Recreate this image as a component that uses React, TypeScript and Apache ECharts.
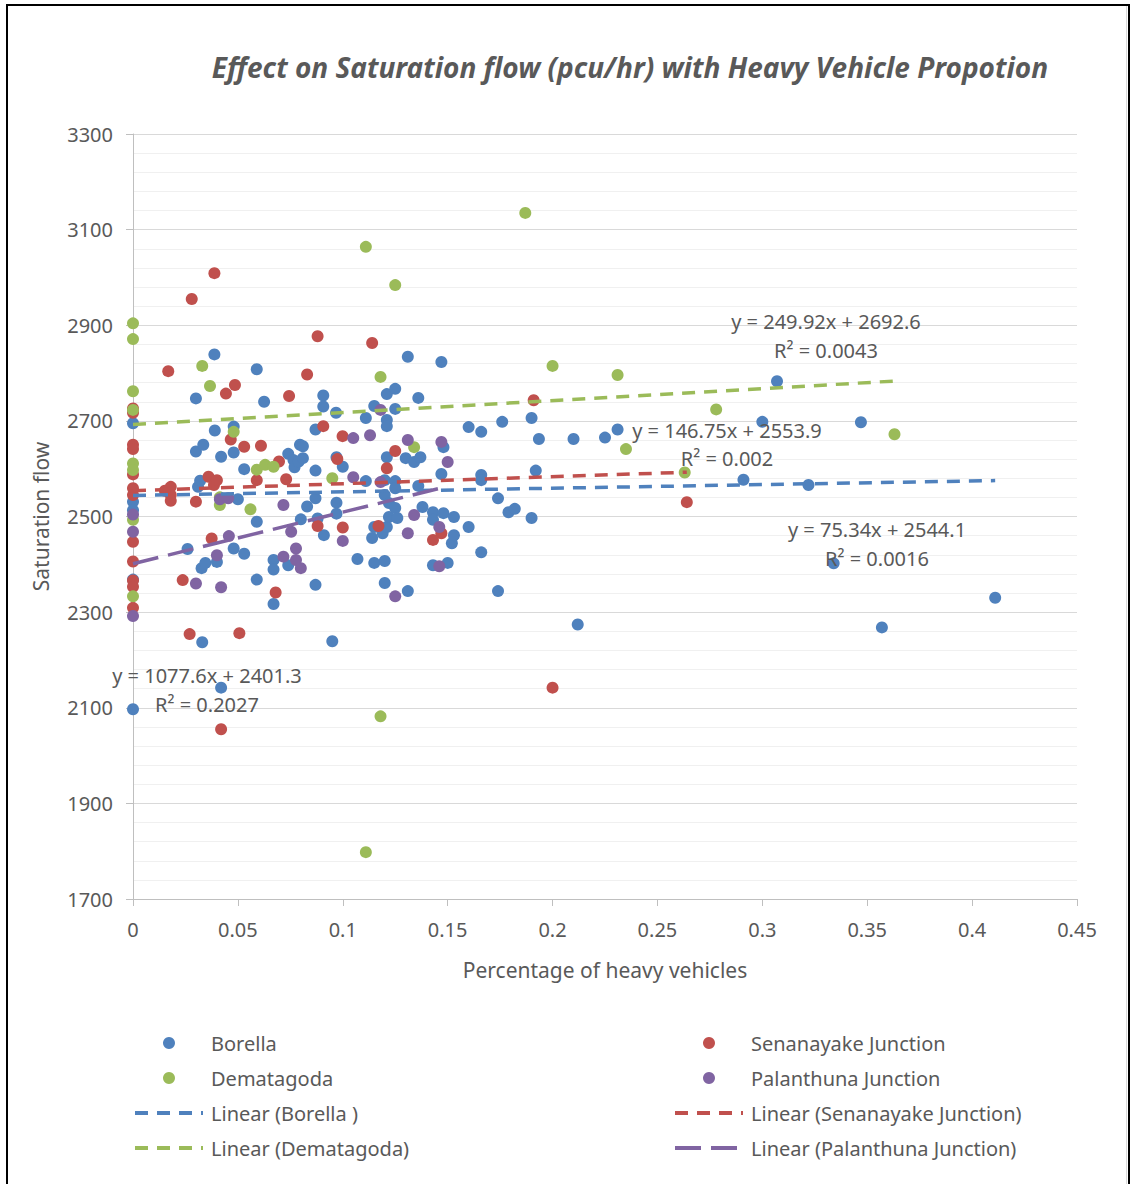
import React, { useEffect, useRef } from "react";
import * as echarts from "echarts";

// ---------- DATA ----------
const borella: [number, number][] = [
  [0, 2695], [0, 2531], [0, 2513], [0, 2368], [0, 2097],
  [0.026, 2432], [0.03, 2747], [0.03, 2636], [0.031, 2562], [0.032, 2575], [0.0327, 2392], [0.033, 2237], [0.0335, 2650], [0.0345, 2403],
  [0.0388, 2839], [0.039, 2680], [0.04, 2405], [0.042, 2625], [0.042, 2142], [0.048, 2688], [0.048, 2634], [0.048, 2433], [0.05, 2536],
  [0.053, 2599], [0.053, 2422], [0.059, 2808], [0.059, 2489], [0.059, 2368], [0.0625, 2740], [0.067, 2409], [0.067, 2389], [0.067, 2317],
  [0.074, 2631], [0.074, 2398], [0.0765, 2618], [0.077, 2603], [0.079, 2615], [0.0796, 2650], [0.08, 2494], [0.081, 2647], [0.081, 2622],
  [0.083, 2521], [0.087, 2682], [0.087, 2596], [0.087, 2538], [0.087, 2357], [0.088, 2496], [0.0907, 2753], [0.0907, 2730], [0.091, 2461],
  [0.095, 2239], [0.0968, 2717], [0.097, 2624], [0.097, 2529], [0.097, 2506], [0.1, 2604], [0.107, 2411], [0.111, 2706], [0.111, 2574],
  [0.114, 2455], [0.115, 2731], [0.115, 2478], [0.115, 2403], [0.119, 2465], [0.12, 2576], [0.12, 2545], [0.12, 2407], [0.12, 2361],
  [0.121, 2756], [0.121, 2702], [0.121, 2689], [0.121, 2624], [0.121, 2478], [0.122, 2528], [0.122, 2499], [0.125, 2767], [0.125, 2725],
  [0.125, 2574], [0.125, 2559], [0.125, 2518], [0.126, 2497], [0.13, 2622], [0.131, 2834], [0.131, 2344], [0.134, 2614], [0.136, 2748],
  [0.136, 2564], [0.137, 2624], [0.138, 2520], [0.143, 2509], [0.143, 2493], [0.143, 2398], [0.147, 2823], [0.147, 2589], [0.148, 2645],
  [0.148, 2507], [0.15, 2403], [0.152, 2444], [0.153, 2499], [0.153, 2461], [0.16, 2687], [0.16, 2478], [0.166, 2677], [0.166, 2587],
  [0.166, 2576], [0.166, 2425], [0.174, 2538], [0.174, 2344], [0.176, 2698], [0.179, 2509], [0.182, 2516], [0.19, 2706], [0.19, 2497],
  [0.192, 2596], [0.1935, 2662], [0.21, 2662], [0.212, 2274], [0.225, 2665], [0.231, 2682], [0.291, 2577], [0.3, 2698], [0.307, 2783],
  [0.322, 2566], [0.334, 2402], [0.347, 2697], [0.357, 2268], [0.411, 2330],
];

const senanayake: [number, number][] = [
  [0, 2726], [0, 2717], [0, 2650], [0, 2641], [0, 2588], [0, 2559], [0, 2545], [0, 2447], [0, 2406], [0, 2366], [0, 2353], [0, 2309],
  [0.0152, 2554], [0.0168, 2804], [0.018, 2562], [0.018, 2545], [0.018, 2533], [0.0237, 2367], [0.027, 2254], [0.028, 2955], [0.03, 2531],
  [0.036, 2583], [0.0375, 2454], [0.0386, 2566], [0.0388, 3009], [0.04, 2576], [0.042, 2055], [0.0443, 2757], [0.0466, 2661], [0.0486, 2775],
  [0.0507, 2256], [0.053, 2646], [0.059, 2576], [0.061, 2648], [0.068, 2341], [0.0696, 2615], [0.073, 2578], [0.0744, 2752], [0.083, 2797],
  [0.088, 2877], [0.088, 2480], [0.0907, 2689], [0.0974, 2620], [0.0999, 2668], [0.1, 2477], [0.114, 2863], [0.117, 2480], [0.121, 2601],
  [0.125, 2637], [0.143, 2451], [0.147, 2465], [0.191, 2743], [0.2, 2142], [0.264, 2530],
];

const dematagoda: [number, number][] = [
  [0, 2904], [0, 2871], [0, 2762], [0, 2723], [0, 2611], [0, 2597], [0, 2493], [0, 2333],
  [0.033, 2815], [0.0367, 2773], [0.0414, 2540], [0.0414, 2524], [0.048, 2677], [0.056, 2515], [0.059, 2598], [0.063, 2608], [0.067, 2604],
  [0.095, 2580], [0.111, 3064], [0.111, 1798], [0.118, 2792], [0.118, 2082], [0.125, 2984], [0.134, 2645], [0.187, 3135], [0.2, 2815],
  [0.231, 2796], [0.235, 2641], [0.263, 2592], [0.278, 2724], [0.363, 2672],
];

const palanthuna: [number, number][] = [
  [0, 2504], [0, 2468], [0, 2292],
  [0.03, 2360], [0.04, 2419], [0.0414, 2536], [0.042, 2352], [0.0454, 2538], [0.0457, 2459], [0.0717, 2524], [0.0717, 2416], [0.0754, 2468],
  [0.0777, 2433], [0.0777, 2409], [0.08, 2392], [0.1, 2449], [0.105, 2664], [0.105, 2582], [0.113, 2670], [0.118, 2723], [0.118, 2572],
  [0.125, 2333], [0.131, 2660], [0.131, 2465], [0.134, 2503], [0.146, 2478], [0.146, 2396], [0.147, 2656], [0.15, 2614],
];

const seriesNames = ["Borella", "Senanayake Junction", "Dematagoda", "Palanthuna Junction"];
const trendNames = ["Linear (Borella )", "Linear (Senanayake Junction)", "Linear (Dematagoda)", "Linear (Palanthuna Junction)"];
const trendSlopes = ["75.34", "146.75", "249.92", "1077.6"];
const trendIntercepts = ["2544.1", "2553.9", "2692.6", "2401.3"];
const trendR2 = ["0.0016", "0.002", "0.0043", "0.2027"];
const yTickValues = [1700, 3300, 200];
const xTickValues = [0, 0.45, 0.05];

// ---------- STYLE / LAYOUT ----------
const colors = ["#4F81BD", "#C0504D", "#9BBB59", "#8064A2"];
const dashes = [[13, 9], [13, 9], [13, 9], [26, 10]];
const eqPos = [
  [877, 529, 558],
  [727, 430, 458],
  [826, 321, 350],
  [207, 675, 704],
];
const FONT = '"Noto Sans", "Open Sans", sans-serif';
const GRAY = "#595959";

export default function App() {
  const ref = useRef<HTMLDivElement>(null);

  useEffect(() => {
    if (!ref.current) return;
    const chart = echarts.init(ref.current, undefined, { renderer: "svg" });
    const datasets = [borella, senanayake, dematagoda, palanthuna];

    const scatterSeries = datasets.map((d, i) => ({
      name: seriesNames[i],
      type: "scatter",
      data: d,
      symbol: "circle",
      symbolSize: 12,
      itemStyle: { color: colors[i], opacity: 1 },
      z: 2,
    }));

    const trendSeries = datasets.map((d, i) => {
      const xs = d.map((p) => p[0]);
      const x0 = Math.min(...xs);
      const x1 = Math.max(...xs);
      const a = parseFloat(trendSlopes[i]);
      const b = parseFloat(trendIntercepts[i]);
      return {
        name: trendNames[i],
        type: "line",
        data: [
          [x0, a * x0 + b],
          [x1, a * x1 + b],
        ],
        symbol: "none",
        showSymbol: false,
        lineStyle: { color: colors[i], width: 3.5, type: dashes[i] },
        itemStyle: { color: colors[i] },
        z: 3,
        silent: true,
      };
    });

    const eqGraphics: any[] = [];
    for (let i = 0; i < 4; i++) {
      eqGraphics.push({
        type: "text",
        x: eqPos[i][0],
        y: eqPos[i][1],
        z: 50,
        style: {
          text: `y = ${trendSlopes[i]}x + ${trendIntercepts[i]}`,
          fill: GRAY,
          font: `20px ${FONT}`,
          textAlign: "center",
          textVerticalAlign: "middle",
        },
      });
      eqGraphics.push({
        type: "text",
        x: eqPos[i][0],
        y: eqPos[i][2],
        z: 50,
        style: {
          text: `R\u00B2 = ${trendR2[i]}`,
          fill: GRAY,
          font: `20px ${FONT}`,
          textAlign: "center",
          textVerticalAlign: "middle",
        },
      });
    }

    const legendCommon = {
      orient: "vertical",
      itemWidth: 68,
      itemHeight: 12,
      itemGap: 0,
      padding: 0,
      selectedMode: false,
      lineStyle: { width: 4 },
      textStyle: { fontSize: 20, color: GRAY, fontFamily: FONT, lineHeight: 35, padding: [0, 0, 0, 3] },
    };
    const lineItem = (name: string) => ({ name, itemStyle: { opacity: 0 } });

    const option: any = {
      animation: false,
      backgroundColor: "#ffffff",
      title: {
        text: "Effect on Saturation flow (pcu/hr) with Heavy Vehicle Propotion",
        left: 630,
        top: 53,
        textAlign: "center",
        padding: 0,
        textStyle: {
          fontSize: 28,
          fontWeight: "bold",
          fontStyle: "italic",
          color: GRAY,
          fontFamily: '"Noto Sans", sans-serif',
        },
      },
      grid: { left: 133, right: 54, top: 134, bottom: 285, containLabel: false },
      xAxis: {
        type: "value",
        min: xTickValues[0],
        max: xTickValues[1],
        interval: xTickValues[2],
        name: "Percentage of heavy vehicles",
        nameLocation: "middle",
        nameGap: 60,
        nameTextStyle: { fontSize: 21, color: GRAY, fontFamily: FONT },
        axisLine: { show: true, onZero: false, lineStyle: { color: "#bfbfbf", width: 1 } },
        axisTick: { show: true, length: 7, lineStyle: { color: "#bfbfbf" } },
        axisLabel: {
          fontSize: 20,
          color: GRAY,
          fontFamily: FONT,
          margin: 20,
          formatter: (v: number) => String(parseFloat(v.toFixed(2))),
        },
        splitLine: { show: false },
      },
      yAxis: {
        type: "value",
        min: yTickValues[0],
        max: yTickValues[1],
        interval: yTickValues[2],
        name: "Saturation flow",
        nameLocation: "middle",
        nameGap: 82,
        nameTextStyle: { fontSize: 21, color: GRAY, fontFamily: FONT },
        axisLine: { show: true, lineStyle: { color: "#bfbfbf", width: 1 } },
        axisTick: { show: true, length: 7, lineStyle: { color: "#bfbfbf" } },
        axisLabel: {
          fontSize: 20,
          color: GRAY,
          fontFamily: FONT,
          margin: 20,
          formatter: (v: number) => String(v),
        },
        splitLine: { show: true, lineStyle: { color: "#d9d9d9", width: 1 } },
        minorTick: { show: false, splitNumber: 5 },
        minorSplitLine: { show: true, lineStyle: { color: "#f0f0f0", width: 1 } },
      },
      legend: [
        {
          ...legendCommon,
          left: 133,
          top: 1025.5,
          data: [
            { name: seriesNames[0], icon: "circle" },
            { name: seriesNames[2], icon: "circle" },
            lineItem(trendNames[0]),
            lineItem(trendNames[2]),
          ],
        },
        {
          ...legendCommon,
          left: 673,
          top: 1025.5,
          data: [
            { name: seriesNames[1], icon: "circle" },
            { name: seriesNames[3], icon: "circle" },
            lineItem(trendNames[1]),
            lineItem(trendNames[3]),
          ],
        },
      ],
      graphic: [
        {
          type: "rect",
          silent: true,
          z: 100,
          shape: { x: 7, y: 5, width: 1122, height: 1200 },
          style: { fill: "none", stroke: "#000000", lineWidth: 2 },
        },
        {
          type: "line",
          silent: true,
          z: 99,
          shape: { x1: 1126.5, y1: 6, x2: 1126.5, y2: 1184 },
          style: { stroke: "#d9d9d9", lineWidth: 1 },
        },
        ...eqGraphics,
      ],
      series: [...scatterSeries, ...trendSeries],
    };

    chart.setOption(option);
    return () => chart.dispose();
  }, []);

  return (
    <div
      ref={ref}
      style={{ position: "absolute", left: 0, top: 0, width: 1131, height: 1184, background: "#fff" }}
    />
  );
}
